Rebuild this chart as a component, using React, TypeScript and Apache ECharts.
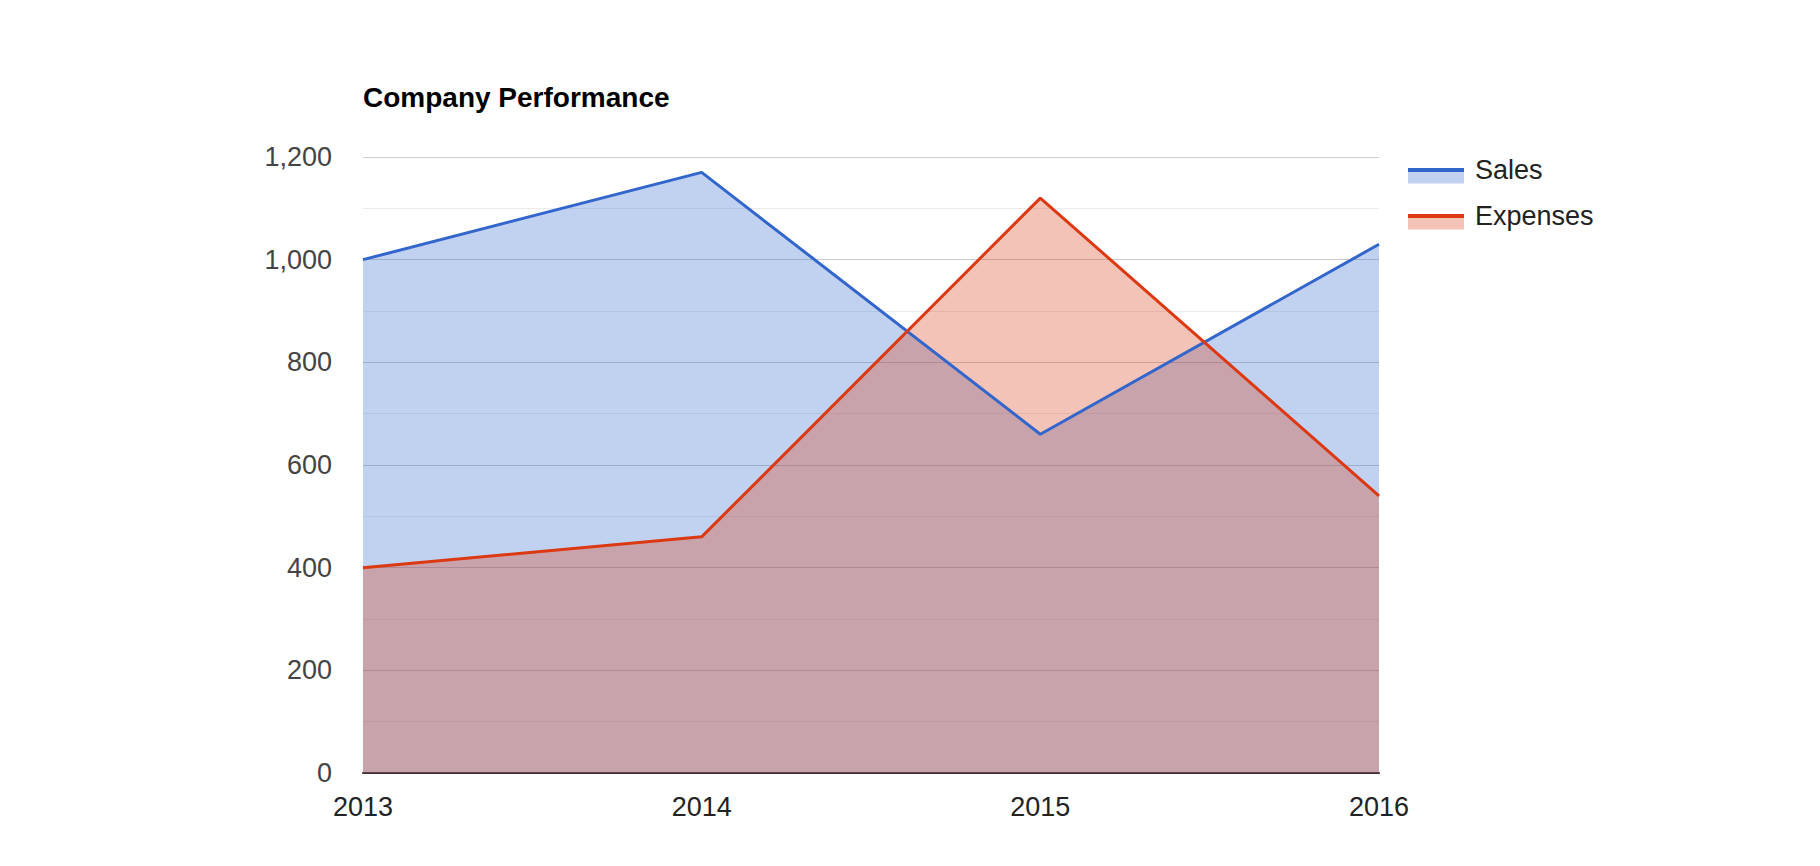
import React, { useEffect, useRef } from "react";
import * as echarts from "echarts";

const years = ["2013", "2014", "2015", "2016"];
const seriesNames = ["Sales", "Expenses"];
const salesValues = [1000, 1170, 660, 1030];
const expensesValues = [400, 460, 1120, 540];
const seriesColors = ["#3366cc", "#dc3912"];
const titleText = "Company Performance";

const FONT = 'Arial, "Liberation Sans", sans-serif';

export default function App() {
  const ref = useRef<HTMLDivElement>(null);
  useEffect(() => {
    document.body.style.margin = "0";
    if (!ref.current) return;
    const chart = echarts.init(ref.current, null, { renderer: "svg" });
    const data = [salesValues, expensesValues];
    const legendGraphics: any[] = [];
    seriesNames.forEach((name, i) => {
      const y = 170 + i * 46;
      legendGraphics.push({
        type: "rect",
        shape: { x: 1408, y: y + 1.5, width: 56, height: 12 },
        style: { fill: seriesColors[i], opacity: 0.3 },
      });
      legendGraphics.push({
        type: "line",
        shape: { x1: 1408, y1: y, x2: 1464, y2: y },
        style: { stroke: seriesColors[i], lineWidth: 4 },
      });
      legendGraphics.push({
        type: "text",
        x: 1475,
        y: y,
        style: {
          text: name,
          font: `27px ${FONT}`,
          fill: "#222222",
          verticalAlign: "middle",
          align: "left",
        },
      });
    });
    const areaSeries = seriesNames.map((name, i) => ({
      name,
      type: "line",
      data: data[i],
      symbol: "none",
      lineStyle: { width: 0, opacity: 0 },
      itemStyle: { color: seriesColors[i] },
      areaStyle: { color: seriesColors[i], opacity: 0.3 },
      z: 2 + i,
    }));
    const lineSeries = seriesNames.map((name, i) => ({
      name: name + " line",
      type: "line",
      data: data[i],
      symbol: "none",
      lineStyle: { color: seriesColors[i], width: 3 },
      itemStyle: { color: seriesColors[i] },
      z: 5 + i,
    }));
    chart.setOption({
      animation: false,
      backgroundColor: "#ffffff",
      title: {
        text: titleText,
        left: 363,
        top: 83,
        padding: 0,
        textStyle: { fontFamily: FONT, fontSize: 28, fontWeight: "bold", color: "#000000", lineHeight: 28 },
      },
      grid: { left: 363, right: 441, top: 157, bottom: 93, containLabel: false },
      xAxis: {
        type: "category",
        data: years,
        boundaryGap: false,
        axisLine: { show: true, lineStyle: { color: "#333333", width: 2 } },
        axisTick: { show: false },
        splitLine: { show: false },
        axisLabel: {
          fontFamily: FONT,
          fontSize: 27,
          color: "#222222",
          margin: 20,
          lineHeight: 27,
          interval: 0,
        },
      },
      yAxis: {
        type: "value",
        min: 0,
        max: 1200,
        interval: 200,
        axisLine: { show: false },
        axisTick: { show: false },
        axisLabel: {
          fontFamily: FONT,
          fontSize: 27,
          color: "#444444",
          margin: 31,
          formatter: (v: number) => v.toLocaleString("en-US"),
        },
        splitLine: { show: true, lineStyle: { color: "#cccccc", width: 1 } },
        minorTick: { show: false, splitNumber: 2 },
        minorSplitLine: { show: true, lineStyle: { color: "#ebebeb", width: 1 } },
      },
      series: [...areaSeries, ...lineSeries],
      graphic: legendGraphics,
    });
    return () => chart.dispose();
  }, []);
  return <div ref={ref} style={{ width: 1820, height: 866 }} />;
}
